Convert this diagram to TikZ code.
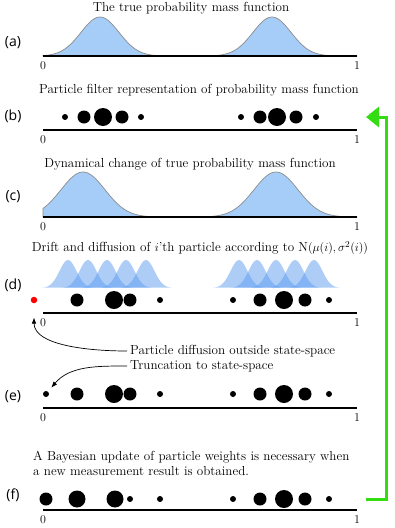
\documentclass[tikz,border=0pt]{standalone}
\usepackage{fontspec}
\newfontfamily\panelfont{Open Sans}
\usetikzlibrary{arrows.meta}
\definecolor{pmfblue}{HTML}{A6CCF8}
\definecolor{pmfline}{HTML}{8C8C8C}
\definecolor{bumpblue}{HTML}{5C9CF0}
\definecolor{loopgreen}{HTML}{33DD11}

\begin{document}
\begin{tikzpicture}[x=1pt,y=-1pt,>=Latex,
  txt/.style={font=\fontsize{13.1}{15}\selectfont,inner sep=0pt},
  ticklabel/.style={font=\fontsize{12}{13}\selectfont,inner sep=0pt},
  panel/.style={font=\panelfont\fontsize{14}{16}\selectfont,inner sep=0pt},
  axisline/.style={line width=2pt},
  pmf/.style={fill=pmfblue,draw=pmfline,line width=0.7pt},
  bump/.style={fill=bumpblue,fill opacity=0.5},
  particle/.style={circle,fill=black,inner sep=0pt},
  note/.style={->,line width=0.7pt},
  feedback/.style={draw=loopgreen,line width=3pt,-{Triangle[width=20pt,length=13pt]}}]
\useasboundingbox (0,0) rectangle (394,528);

\node[panel] (pa) at (13,43) {(a)};
\node[panel] (pb) at (13,116) {(b)};
\node[panel] (pc) at (13,197) {(c)};
\node[panel] (pd) at (13,285) {(d)};
\node[panel] (pe) at (13,397) {(e)};
\node[panel] (pf) at (13,495) {(f)};

\node[txt] (ta) at (191,8) {The true probability mass function};
\node[txt] (tb) at (199,90) {Particle filter representation of probability mass function};
\node[txt] (tc) at (190,164) {Dynamical change of true probability mass function};
\node[txt] (td) at (200,248) {Drift and diffusion of $i$'th particle according to N$(\mu(i),\sigma^2(i))$};
\node[txt,anchor=west] (pdiff) at (130,351) {Particle diffusion outside state-space};
\node[txt,anchor=west] (trunc) at (130,366) {Truncation to state-space};
\node[txt,anchor=west,align=left] (tf) at (33,463.5) {A Bayesian update of particle weights is necessary when\\a new measurement result is obtained.};

\draw[pmf] (43,56) -- plot[domain=43:357,samples=160]
  (\x,{56-39*(exp(-min(12,((\x-100)/19)*((\x-100)/19)/2))+exp(-min(12,((\x-272)/19)*((\x-272)/19)/2)))})
  -- (357,56) -- cycle;
\draw[pmf] (43,217) -- plot[domain=43:357,samples=160]
  (\x,{217-45*(exp(-min(12,((\x-83)/22)*((\x-83)/22)/2))+exp(-min(12,((\x-276)/22)*((\x-276)/22)/2)))})
  -- (357,217) -- cycle;
\foreach \p in {68,88,107,126,146,239,257,276,295,314}
  \fill[bump] plot[variable=\t,domain=-26:26,samples=40] ({\p+\t},{288-28*exp(-(\t/8.5)*(\t/8.5)/2)}) -- cycle;

\foreach \y [count=\i] in {56,130,217,313,408,510} {
  \draw[axisline] (43,\y) -- (357,\y);
  \node[ticklabel] (zero\i) at (43,\y+10) {0};
  \node[ticklabel] (one\i) at (357,\y+10) {1};
}

\foreach \x/\d [count=\i] in {65/6,84/13,103/18,122/13,141/6,241/6,260/13,277/18,296/13,316/6}
  \node[particle,minimum size=\d pt] (b\i) at (\x,117) {};
\node[particle,fill=red,minimum size=6.5pt] (red) at (34,300) {};
\foreach \x/\d [count=\i] in {77/13,114/18,130/13,160/6,233/6,260/13,284/18,305/13,329/6}
  \node[particle,minimum size=\d pt] (d\i) at (\x,300) {};
\foreach \x/\d [count=\i] in {46/6,77/13,114/18,130/13,160/6,233/6,260/13,284/18,305/13,329/6}
  \node[particle,minimum size=\d pt] (e\i) at (\x,394) {};
\foreach \x/\d [count=\i] in {46/13,77/17,115/17,130/6,160/6,233/6,260/13,284/18,305/13,329/6}
  \node[particle,minimum size=\d pt] (f\i) at (\x,499) {};

\draw[note,shorten <=3pt,shorten >=14pt] (pdiff.west) to[out=180,in=-90] (red.south);
\draw[note,shorten <=3pt,shorten >=5pt] (trunc.west) to[out=180,in=50] (e1);

\coordinate (fout) at (366,499);
\coordinate (bin) at (366,117);
\draw[feedback] (fout) -- ++(20,0) |- (bin);
\end{tikzpicture}
\end{document}
